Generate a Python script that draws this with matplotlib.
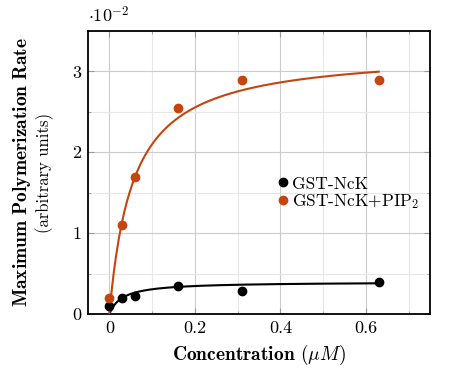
import numpy as np
import matplotlib
matplotlib.use('Agg')
import matplotlib.pyplot as plt
from matplotlib.ticker import MultipleLocator

plt.rcParams['font.family'] = 'cmr10'
plt.rcParams['mathtext.fontset'] = 'cm'
plt.rcParams['axes.formatter.use_mathtext'] = True

# data (values in units of 1e-2)
conc = [0, 0.03, 0.06, 0.16, 0.31, 0.63]
rate_nck = [0.1, 0.2, 0.22, 0.35, 0.28, 0.4]
rate_pip2 = [0.2, 1.1, 1.7, 2.55, 2.9, 2.9]
series_labels = ['GST-NcK', 'GST-NcK+PIP$_2$']

# Michaelis-Menten fit parameters (Vmax, Km)
fit_nck = (0.398, 0.03)
fit_pip2 = (3.26, 0.0552)

black = 'black'
orange = '#c5450f'

fig = plt.figure(figsize=(4.56, 3.74), dpi=100)
ax = fig.add_axes([0.193, 0.1604, 0.75, 0.7566])

xs = np.linspace(0, max(conc), 200)
for (vmax, km), c in [(fit_nck, black), (fit_pip2, orange)]:
    ax.plot(xs, vmax * xs / (km + xs), color=c, lw=1.5, zorder=3)

ax.plot(conc, rate_nck, 'o', color=black, ms=6, label=series_labels[0], zorder=4)
ax.plot(conc, rate_pip2, 'o', color=orange, ms=6, label=series_labels[1], zorder=4)

ax.set_xlim(-0.05, 0.75)
ax.set_ylim(0, 3.5)
ax.xaxis.set_minor_locator(MultipleLocator(0.1))
ax.yaxis.set_minor_locator(MultipleLocator(0.5))
ax.set_xticks([0, 0.2, 0.4, 0.6])
ax.set_xticklabels(['0', '0.2', '0.4', '0.6'])
ax.set_yticks([0, 1, 2, 3])
ax.set_yticklabels(['0', '1', '2', '3'])

ax.grid(which='major', color='#cccccc', lw=0.8)
ax.grid(which='minor', color='#e8e8e8', lw=0.8)
ax.set_axisbelow(True)
ax.tick_params(which='both', direction='in', top=True, right=True, color='#999999', labelsize=13, pad=5)
ax.tick_params(which='major', length=4)
ax.tick_params(which='minor', length=2.5)
for s in ax.spines.values():
    s.set_linewidth(1.3)

ax.set_xlabel(r'$\mathbf{Concentration}$ $(\mu M)$', fontsize=14, labelpad=5)
ax.text(-0.193, 0.5, r'$\mathbf{Maximum\ Polymerization\ Rate}$', rotation=90,
        transform=ax.transAxes, ha='center', va='center', fontsize=14)
ax.text(-0.126, 0.5, '(arbitrary units)', rotation=90,
        transform=ax.transAxes, ha='center', va='center', fontsize=12)
ax.text(0.0, 1.02, r'$\cdot 10^{-2}$', transform=ax.transAxes, ha='left', va='bottom', fontsize=13)

ax.legend(loc='center left', bbox_to_anchor=(0.52, 0.425), frameon=False, fontsize=12.5,
          handletextpad=0.0, handlelength=1.0, labelspacing=0.05, borderpad=0)

fig.savefig('out.png', dpi=100)
